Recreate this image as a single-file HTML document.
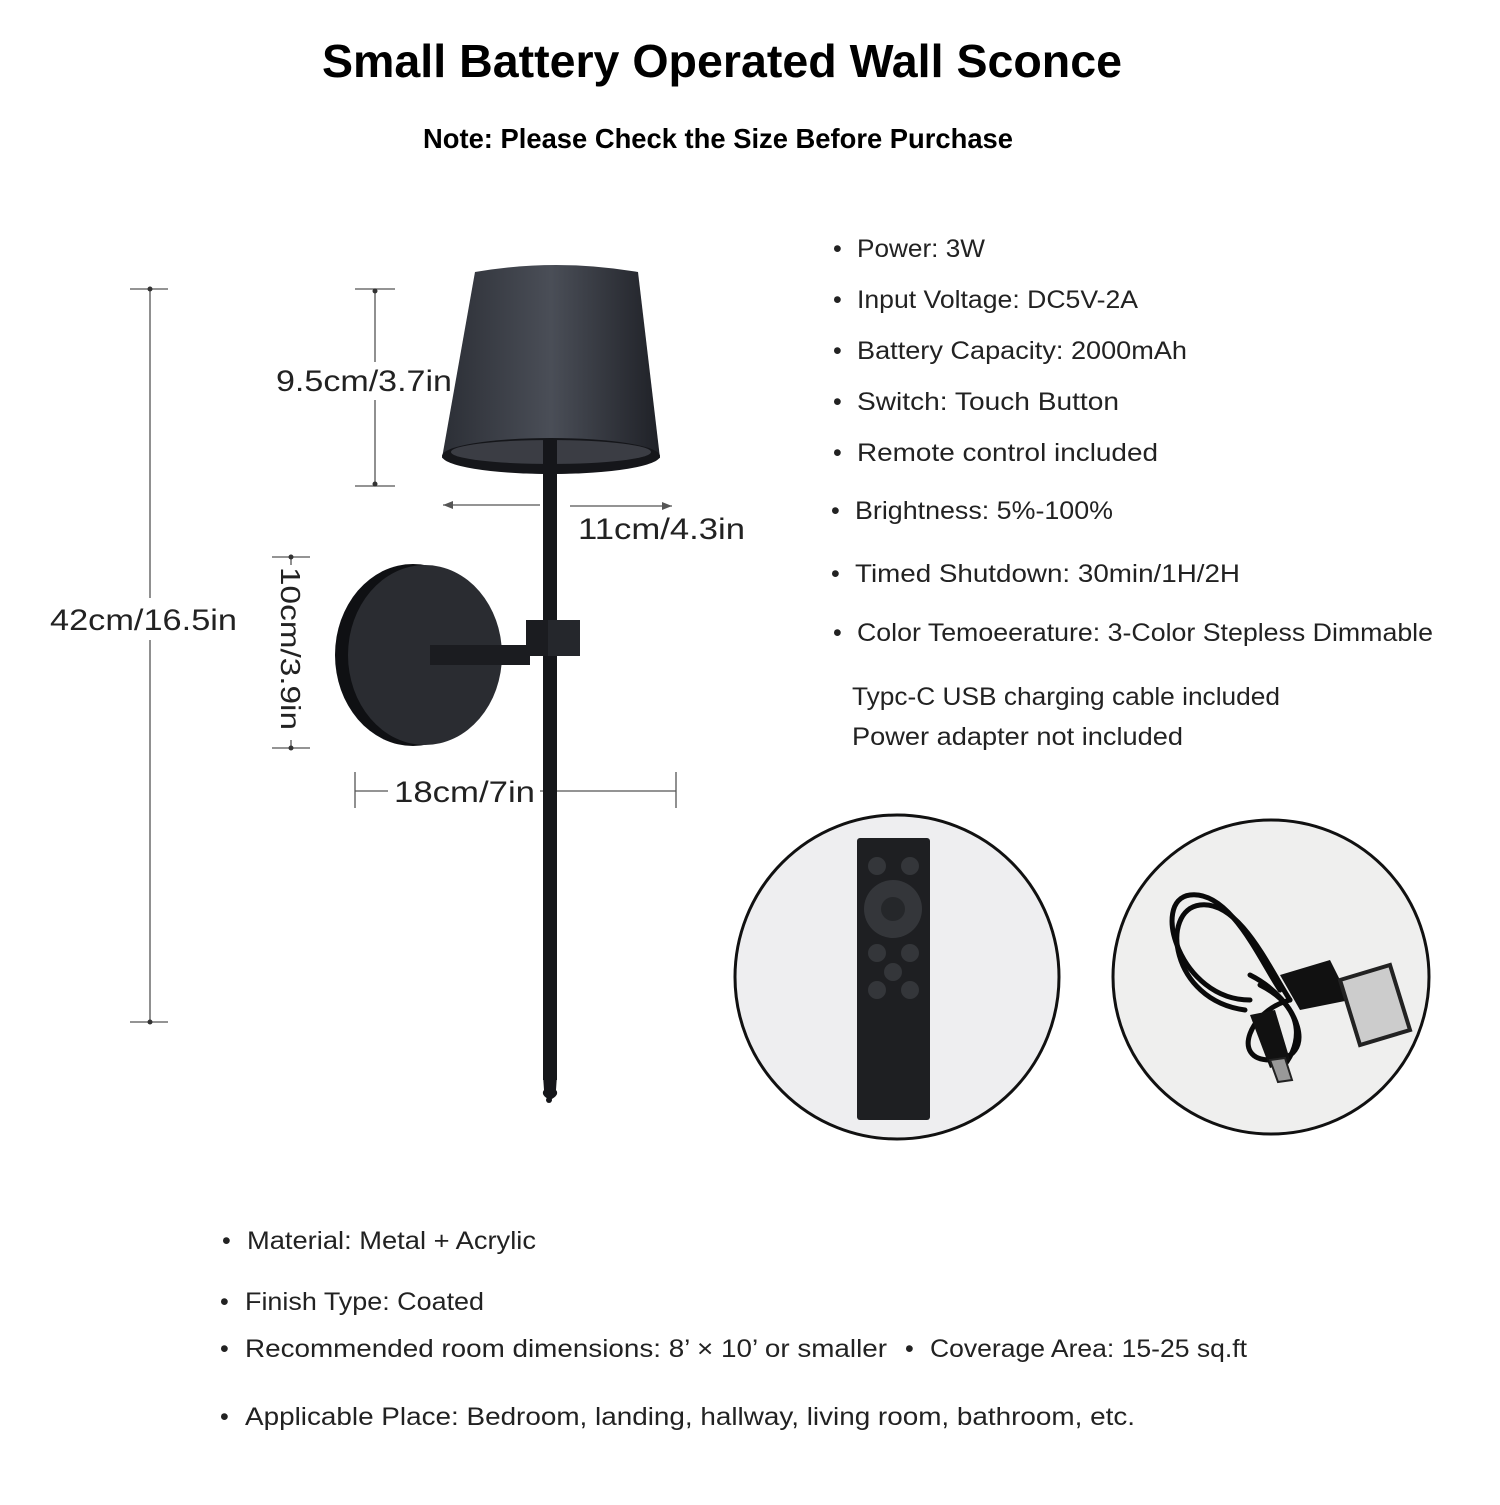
<!DOCTYPE html>
<html><head><meta charset="utf-8"><style>
body{margin:0;background:#fff}
svg text{font-family:"Liberation Sans",sans-serif;fill:#222}
</style></head><body>
<svg width="1500" height="1500" viewBox="0 0 1500 1500" xmlns="http://www.w3.org/2000/svg">
<rect width="1500" height="1500" fill="#fff"/>
<text x="722" y="77" text-anchor="middle" font-size="46" font-weight="bold" textLength="800" lengthAdjust="spacingAndGlyphs" style="fill:#000">Small Battery Operated Wall Sconce</text>
<text x="718" y="148" text-anchor="middle" font-size="28" font-weight="bold" textLength="590" lengthAdjust="spacingAndGlyphs" style="fill:#000">Note: Please Check the Size Before Purchase</text>

<g stroke="#555" stroke-width="1.3" fill="none">
<line x1="130" y1="289" x2="168" y2="289"/><line x1="130" y1="1022" x2="168" y2="1022"/>
<line x1="150" y1="289" x2="150" y2="598"/><line x1="150" y1="640" x2="150" y2="1022"/>
<line x1="355" y1="289" x2="395" y2="289"/><line x1="355" y1="486" x2="395" y2="486"/>
<line x1="375" y1="289" x2="375" y2="362"/><line x1="375" y1="400" x2="375" y2="486"/>
<line x1="443" y1="505" x2="540" y2="505"/><line x1="570" y1="506" x2="672" y2="506"/>
<line x1="272" y1="557" x2="310" y2="557"/><line x1="272" y1="748" x2="310" y2="748"/>
<line x1="291" y1="557" x2="291" y2="565"/><line x1="291" y1="740" x2="291" y2="748"/>
<line x1="355" y1="772" x2="355" y2="808"/><line x1="676" y1="772" x2="676" y2="808"/>
<line x1="355" y1="791" x2="388" y2="791"/><line x1="540" y1="791" x2="676" y2="791"/>
</g>
<g fill="#333"><circle cx="150" cy="289" r="2.5"/><circle cx="150" cy="1022" r="2.5"/><circle cx="375" cy="291" r="2.5"/><circle cx="375" cy="484" r="2.5"/><circle cx="291" cy="557" r="2.5"/><circle cx="291" cy="748" r="2.5"/></g>
<path d="M443 505 l10 -4 v8 z M672 506 l-10 -4 v8 z" fill="#555"/>
<text x="50" y="630" font-size="30" textLength="187" lengthAdjust="spacingAndGlyphs">42cm/16.5in</text>
<text x="276" y="391" font-size="30" textLength="176" lengthAdjust="spacingAndGlyphs">9.5cm/3.7in</text>
<text x="578" y="539" font-size="30" textLength="167" lengthAdjust="spacingAndGlyphs">11cm/4.3in</text>
<text x="394" y="802" font-size="30" textLength="141" lengthAdjust="spacingAndGlyphs">18cm/7in</text>
<text transform="translate(281,567) rotate(90)" font-size="28" textLength="163" lengthAdjust="spacingAndGlyphs">10cm/3.9in</text>

<defs><linearGradient id="sh" x1="0" x2="1"><stop offset="0" stop-color="#2c2f36"/><stop offset=".5" stop-color="#4a4e57"/><stop offset="1" stop-color="#1f2127"/></linearGradient></defs>
<path d="M475 272 Q556 258 638 272 L660 458 Q551 490 442 458 Z" fill="url(#sh)"/>
<ellipse cx="551" cy="456" rx="109" ry="18" fill="#15161a"/>
<ellipse cx="551" cy="452" rx="100" ry="12" fill="#3b3d44"/>
<rect x="543" y="440" width="14" height="640" fill="#15161a"/>
<path d="M543 1075 L557 1075 L556 1090 Q560 1095 550 1100 Q540 1095 544 1090 Z" fill="#15161a"/>
<circle cx="549" cy="1100" r="3" fill="#15161a"/>
<ellipse cx="413" cy="655" rx="78" ry="91" fill="#0f1013"/>
<ellipse cx="425" cy="655" rx="77" ry="90" fill="#2a2c31"/>
<rect x="430" y="645" width="100" height="20" fill="#1b1c20"/>
<rect x="526" y="620" width="54" height="36" fill="#1b1c20"/>
<rect x="548" y="620" width="32" height="36" fill="#25272c"/>

<g font-size="25" lengthAdjust="spacingAndGlyphs">
<text x="833" y="257">•</text><text x="857" y="257" textLength="128" lengthAdjust="spacingAndGlyphs">Power: 3W</text>
<text x="833" y="308">•</text><text x="857" y="308" textLength="281" lengthAdjust="spacingAndGlyphs">Input Voltage: DC5V-2A</text>
<text x="833" y="359">•</text><text x="857" y="359" textLength="330" lengthAdjust="spacingAndGlyphs">Battery Capacity: 2000mAh</text>
<text x="833" y="410">•</text><text x="857" y="410" textLength="262" lengthAdjust="spacingAndGlyphs">Switch: Touch Button</text>
<text x="833" y="461">•</text><text x="857" y="461" textLength="301" lengthAdjust="spacingAndGlyphs">Remote control included</text>
<text x="831" y="519">•</text><text x="855" y="519" textLength="258" lengthAdjust="spacingAndGlyphs">Brightness: 5%-100%</text>
<text x="831" y="582">•</text><text x="855" y="582" textLength="385" lengthAdjust="spacingAndGlyphs">Timed Shutdown: 30min/1H/2H</text>
<text x="833" y="641">•</text><text x="857" y="641" textLength="576" lengthAdjust="spacingAndGlyphs">Color Temoeerature: 3-Color Stepless Dimmable</text>
<text x="852" y="705" textLength="428" lengthAdjust="spacingAndGlyphs">Typc-C USB charging cable included</text>
<text x="852" y="745" textLength="331" lengthAdjust="spacingAndGlyphs">Power adapter not included</text>
</g>

<ellipse cx="897" cy="977" rx="162" ry="162" fill="#eeeef0" stroke="#111" stroke-width="3"/>
<ellipse cx="1271" cy="977" rx="158" ry="157" fill="#efefee" stroke="#111" stroke-width="3"/>
<rect x="857" y="838" width="73" height="282" rx="3" fill="#1e1f22"/>
<g fill="#34363a"><circle cx="877" cy="866" r="9"/><circle cx="910" cy="866" r="9"/><circle cx="893" cy="909" r="29"/><circle cx="877" cy="953" r="9"/><circle cx="910" cy="953" r="9"/><circle cx="893" cy="972" r="9"/><circle cx="877" cy="990" r="9"/><circle cx="910" cy="990" r="9"/></g>
<circle cx="893" cy="909" r="12" fill="#25272a"/>
<g fill="none" stroke="#0a0a0a" stroke-width="5" stroke-linecap="round">
<path d="M1250 1000 C1180 1000 1150 900 1190 895 C1230 890 1260 960 1280 990"/>
<path d="M1245 1010 C1170 1000 1160 910 1200 905 C1240 900 1270 970 1290 1000"/>
<path d="M1250 975 C1300 1000 1320 1060 1270 1060 C1230 1060 1250 1010 1290 1000"/>
<path d="M1260 985 C1310 1010 1300 1050 1280 1070"/>
</g>
<path d="M1280 975 L1330 960 L1350 1000 L1300 1010 Z" fill="#111"/>
<path d="M1340 980 L1390 965 L1410 1030 L1360 1045 Z" fill="#ccc" stroke="#222" stroke-width="4"/>
<path d="M1250 1015 L1275 1010 L1290 1060 L1270 1068 Z" fill="#111"/>
<path d="M1270 1060 L1285 1058 L1292 1080 L1278 1082 Z" fill="#999" stroke="#222" stroke-width="2"/>

<g font-size="25">
<text x="222" y="1249">•</text><text x="247" y="1249" textLength="289" lengthAdjust="spacingAndGlyphs">Material: Metal + Acrylic</text>
<text x="220" y="1310">•</text><text x="245" y="1310" textLength="239" lengthAdjust="spacingAndGlyphs">Finish Type: Coated</text>
<text x="220" y="1357">•</text><text x="245" y="1357" textLength="642" lengthAdjust="spacingAndGlyphs">Recommended room dimensions: 8’ × 10’ or smaller</text>
<text x="905" y="1357">•</text><text x="930" y="1357" textLength="317" lengthAdjust="spacingAndGlyphs">Coverage Area: 15-25 sq.ft</text>
<text x="220" y="1425">•</text><text x="245" y="1425" textLength="890" lengthAdjust="spacingAndGlyphs">Applicable Place: Bedroom, landing, hallway, living room, bathroom, etc.</text>
</g>
</svg>
</body></html>
